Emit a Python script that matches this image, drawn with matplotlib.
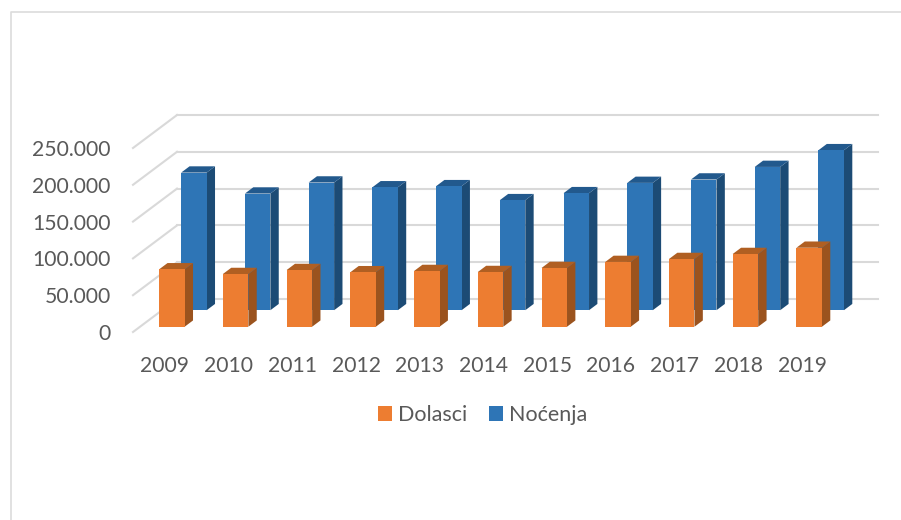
import matplotlib
matplotlib.use('Agg')
import matplotlib.pyplot as plt
from matplotlib.patches import Patch, Polygon
from matplotlib.lines import Line2D

years = ['2009', '2010', '2011', '2012', '2013', '2014', '2015', '2016', '2017', '2018', '2019']
dolasci = [78000, 71600, 77000, 74000, 75700, 74300, 79800, 88000, 92000, 98800, 107300]
nocenja = [187000, 158500, 173500, 167000, 168500, 149500, 159000, 173000, 177600, 194700, 217400]
levels = [0, 50000, 100000, 150000, 200000, 250000]
level_labels = ['0', '50.000', '100.000', '150.000', '200.000', '250.000']

plt.rcParams['font.family'] = ['Lato', 'DejaVu Sans']
TXT = '#595959'
GRID = '#d9d9d9'

W, H = 901, 520
fig = plt.figure(figsize=(W/100, H/100), dpi=100)
ax = fig.add_axes([133/W, (H-332)/H, 701/W, 184/H])
ax.set_xlim(-0.5, 10.5)
ax.set_ylim(0, 250000)
for s in ax.spines.values():
    s.set_visible(False)

# one unit of depth on screen, in data units
DX = 44/63.7
DY = 33/184*250000

def proj(x, v, d):
    return (x + d*DX, v + d*DY)

# walls
xleft = -0.5
xright = 10.5
for v in levels:
    ax.add_line(Line2D(*zip(proj(xleft, v, 0), proj(xleft, v, 1)), color=GRID, lw=1.5, clip_on=False, zorder=1))
    ax.add_line(Line2D(*zip(proj(xleft, v, 1), proj(xright, v, 1)), color=GRID, lw=1.5, clip_on=False, zorder=1))

def bar3d(x, v, d, width, depth, front, side, top, z):
    a, b = x - width/2, x + width/2
    ax.add_patch(Polygon([proj(a, 0, d), proj(b, 0, d), proj(b, v, d), proj(a, v, d)],
                         fc=front, ec='none', clip_on=False, zorder=z+0.2))
    ax.add_patch(Polygon([proj(b, 0, d), proj(b, 0, d+depth), proj(b, v, d+depth), proj(b, v, d)],
                         fc=side, ec='none', clip_on=False, zorder=z))
    ax.add_patch(Polygon([proj(a, v, d), proj(b, v, d), proj(b, v, d+depth), proj(a, v, d+depth)],
                         fc=top, ec='none', clip_on=False, zorder=z))

for i, v in enumerate(nocenja):
    bar3d(i, v, 0.66, 0.4, 0.19, '#2e75b6', '#1c4b75', '#22598d', 3)
for i, v in enumerate(dolasci):
    bar3d(i, v, 0.16, 0.4, 0.19, '#ed7d31', '#9b531e', '#b05f22', 5)

ax.set_xticks(range(len(years)))
ax.set_xticklabels(years)
ax.set_yticks(levels)
ax.set_yticklabels(level_labels)
ax.tick_params(axis='x', length=0, pad=17, labelsize=15.2, labelcolor=TXT)
ax.tick_params(axis='y', length=0, pad=16, labelsize=15.2, labelcolor=TXT)

handles = [Patch(fc='#ed7d31', label='Dolasci'), Patch(fc='#2e75b6', label='Noćenja')]
leg = ax.legend(handles=handles, ncol=2, frameon=False, loc='center',
                bbox_to_anchor=(482.5/W, (H-415)/H), bbox_transform=fig.transFigure,
                fontsize=15.5, handlelength=0.65, handleheight=0.65, handletextpad=0.3,
                columnspacing=1.0, labelcolor=TXT)

# outer frame of the pasted chart
fig.add_artist(Line2D([11/W, 11/W, 1], [0, (H-12)/H, (H-12)/H], color='#dcdcdc', lw=1.2))

fig.savefig('out.png', dpi=100)
